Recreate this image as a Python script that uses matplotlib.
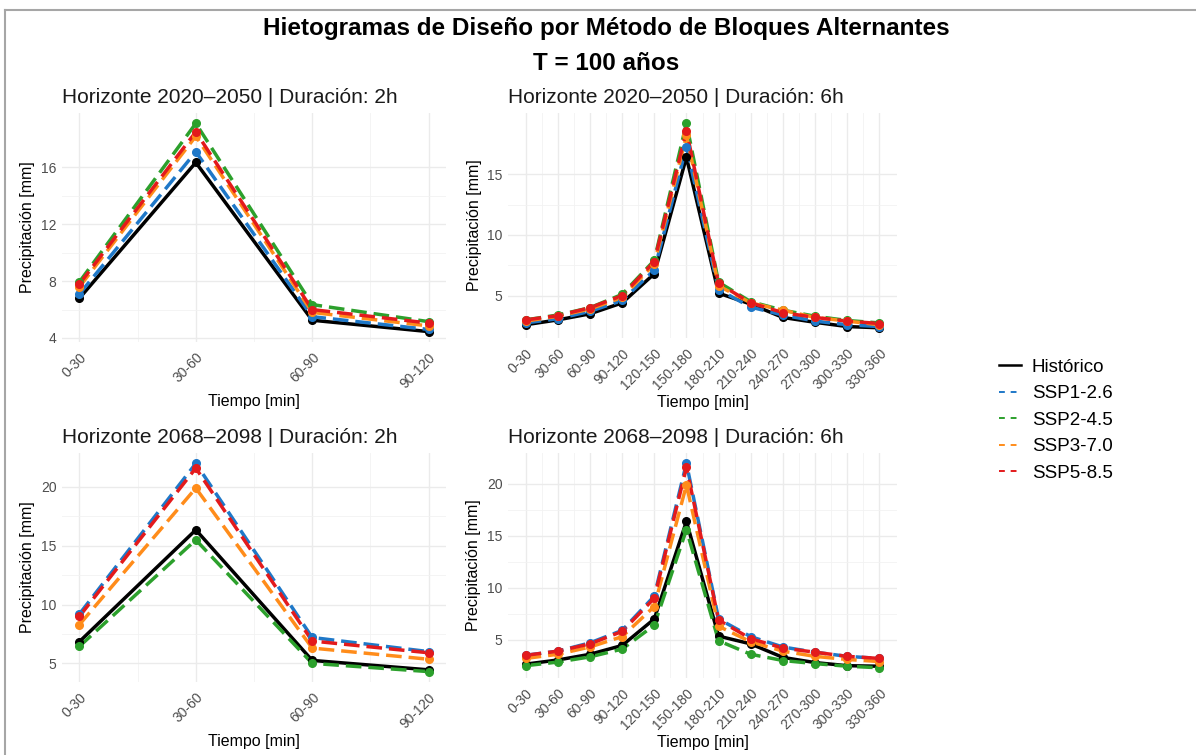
import numpy as np
import matplotlib.pyplot as plt
from matplotlib.lines import Line2D

plt.rcParams['font.family'] = ['Liberation Sans', 'DejaVu Sans']

# Datos
tiempo_2h = ['0-30', '30-60', '60-90', '90-120']
tiempo_6h = ['0-30', '30-60', '60-90', '90-120', '120-150', '150-180',
             '180-210', '210-240', '240-270', '270-300', '300-330', '330-360']

escenarios = ['Histórico', 'SSP1-2.6', 'SSP2-4.5', 'SSP3-7.0', 'SSP5-8.5']
colores = ['black', '#1F78C8', '#2CA02C', '#FF8C1A', '#E31A1C']

# Horizonte 2020-2050, 2h
h1_2h_hist = [6.8, 16.35, 5.25, 4.45]
h1_2h_ssp1 = [7.1, 17.1, 5.5, 4.6]
h1_2h_ssp2 = [7.95, 19.1, 6.35, 5.15]
h1_2h_ssp3 = [7.6, 18.2, 5.8, 4.85]
h1_2h_ssp5 = [7.8, 18.5, 6.0, 5.05]

# Horizonte 2020-2050, 6h
h1_6h_hist = [2.6, 3.0, 3.5, 4.4, 6.8, 16.4, 5.2, 4.3, 3.2, 2.8, 2.45, 2.35]
h1_6h_ssp1 = [2.75, 3.1, 3.7, 4.6, 7.1, 17.25, 5.5, 4.05, 3.4, 2.9, 2.6, 2.45]
h1_6h_ssp2 = [3.0, 3.4, 4.0, 5.1, 7.9, 19.2, 6.1, 4.5, 3.8, 3.3, 2.95, 2.75]
h1_6h_ssp3 = [2.9, 3.3, 3.9, 4.85, 7.6, 18.2, 5.8, 4.4, 3.8, 3.2, 2.9, 2.6]
h1_6h_ssp5 = [3.0, 3.35, 4.0, 5.0, 7.8, 18.6, 6.0, 4.4, 3.6, 3.2, 2.9, 2.7]

# Horizonte 2068-2098, 2h
h2_2h_hist = [6.85, 16.35, 5.25, 4.45]
h2_2h_ssp1 = [9.2, 22.0, 7.2, 6.0]
h2_2h_ssp2 = [6.45, 15.5, 5.0, 4.3]
h2_2h_ssp3 = [8.3, 19.9, 6.3, 5.35]
h2_2h_ssp5 = [9.0, 21.6, 6.9, 5.9]

# Horizonte 2068-2098, 6h
h2_6h_hist = [2.65, 3.05, 3.6, 4.45, 7.0, 16.4, 5.35, 4.6, 3.3, 2.8, 2.5, 2.45]
h2_6h_ssp1 = [3.5, 3.9, 4.7, 5.9, 9.2, 22.0, 7.0, 5.3, 4.3, 3.8, 3.4, 3.2]
h2_6h_ssp2 = [2.5, 2.85, 3.35, 4.1, 6.4, 15.6, 4.9, 3.6, 3.0, 2.7, 2.45, 2.3]
h2_6h_ssp3 = [3.2, 3.6, 4.3, 5.3, 8.2, 19.9, 6.3, 4.8, 3.9, 3.4, 3.1, 2.9]
h2_6h_ssp5 = [3.5, 3.9, 4.6, 5.8, 9.0, 21.6, 6.9, 5.1, 4.2, 3.8, 3.4, 3.2]

paneles = [
    ('Horizonte 2020–2050 | Duración: 2h', tiempo_2h,
     [h1_2h_hist, h1_2h_ssp1, h1_2h_ssp2, h1_2h_ssp3, h1_2h_ssp5], [4, 8, 12, 16]),
    ('Horizonte 2020–2050 | Duración: 6h', tiempo_6h,
     [h1_6h_hist, h1_6h_ssp1, h1_6h_ssp2, h1_6h_ssp3, h1_6h_ssp5], [5, 10, 15]),
    ('Horizonte 2068–2098 | Duración: 2h', tiempo_2h,
     [h2_2h_hist, h2_2h_ssp1, h2_2h_ssp2, h2_2h_ssp3, h2_2h_ssp5], [5, 10, 15, 20]),
    ('Horizonte 2068–2098 | Duración: 6h', tiempo_6h,
     [h2_6h_hist, h2_6h_ssp1, h2_6h_ssp2, h2_6h_ssp3, h2_6h_ssp5], [5, 10, 15, 20]),
]

W, H = 1196, 755
fig = plt.figure(figsize=(W / 100, H / 100), dpi=100)

# cajas de los paneles en píxeles (izq, der, arriba, abajo)
cajas = [(62, 446, 113, 342), (508, 897, 113, 338),
         (62, 446, 453, 682), (508, 897, 453, 678)]

gris_txt = '#4D4D4D'
for (titulo, etiquetas, series, yticks), (l, r, t, b) in zip(paneles, cajas):
    ax = fig.add_axes([l / W, 1 - b / H, (r - l) / W, (b - t) / H])
    x = np.arange(1, len(etiquetas) + 1)
    for datos, nombre, c in zip(series, escenarios, colores):
        if nombre == 'Histórico':
            ax.plot(x, datos, color=c, lw=2.5, solid_capstyle='round', zorder=2)
        else:
            ax.plot(x, datos, color=c, lw=2.5, dashes=(4.5, 2), zorder=2)
    for datos, c in zip(series, colores):
        ax.plot(x, datos, 'o', color=c, ms=5.5, zorder=3)
    ax.margins(x=0.05, y=0.05)
    ax.set_xticks(x)
    ax.set_xticks(x[:-1] + 0.5, minor=True)
    ax.set_xticklabels(etiquetas, rotation=45, ha='right', va='top',
                       rotation_mode='anchor', color=gris_txt, fontsize=10)
    ax.set_yticks(yticks)
    ax.set_yticks(np.array(yticks[:-1]) + (yticks[1] - yticks[0]) / 2, minor=True)
    lo, hi = ax.get_ylim()
    ax.set_ylim(lo, hi)
    ax.tick_params(axis='y', labelcolor=gris_txt, labelsize=10)
    ax.tick_params(which='both', length=0)
    ax.tick_params(axis='x', pad=6)
    ax.tick_params(axis='y', pad=4)
    ax.grid(which='major', color='#EBEBEB', lw=1.0)
    ax.grid(which='minor', color='#F2F2F2', lw=0.6)
    ax.set_axisbelow(True)
    for s in ax.spines.values():
        s.set_visible(False)
    ax.set_title(titulo, loc='left', fontsize=15, pad=7, color='#1A1A1A')
    ax.set_xlabel('Tiempo [min]', fontsize=11.5, labelpad=2)
    ax.set_ylabel('Precipitación [mm]', fontsize=11.5, labelpad=4)

fig.text(606 / W, 1 - 28 / H, 'Hietogramas de Diseño por Método de Bloques Alternantes',
         ha='center', va='center', fontsize=17.5, fontweight='bold')
fig.text(606 / W, 1 - 63 / H, 'T = 100 años',
         ha='center', va='center', fontsize=17.5, fontweight='bold')

# leyenda
handles = []
for nombre, c in zip(escenarios, colores):
    if nombre == 'Histórico':
        handles.append(Line2D([], [], color=c, lw=1.8))
    else:
        handles.append(Line2D([], [], color=c, lw=1.4, dashes=(3, 3)))
fig.legend(handles, escenarios, loc='upper left',
           bbox_to_anchor=(982 / W, 1 - 342 / H), frameon=False,
           fontsize=13.5, handlelength=1.2, handletextpad=0.55, labelspacing=0.5)

# marco gris de la captura
fig.add_artist(Line2D([5 / W, 1], [1 - 10 / H, 1 - 10 / H], color='#A6A6A6', lw=1.5))
fig.add_artist(Line2D([5 / W, 5 / W], [0, 1 - 10 / H], color='#A6A6A6', lw=1.5))

fig.savefig('out.png', dpi=100)
